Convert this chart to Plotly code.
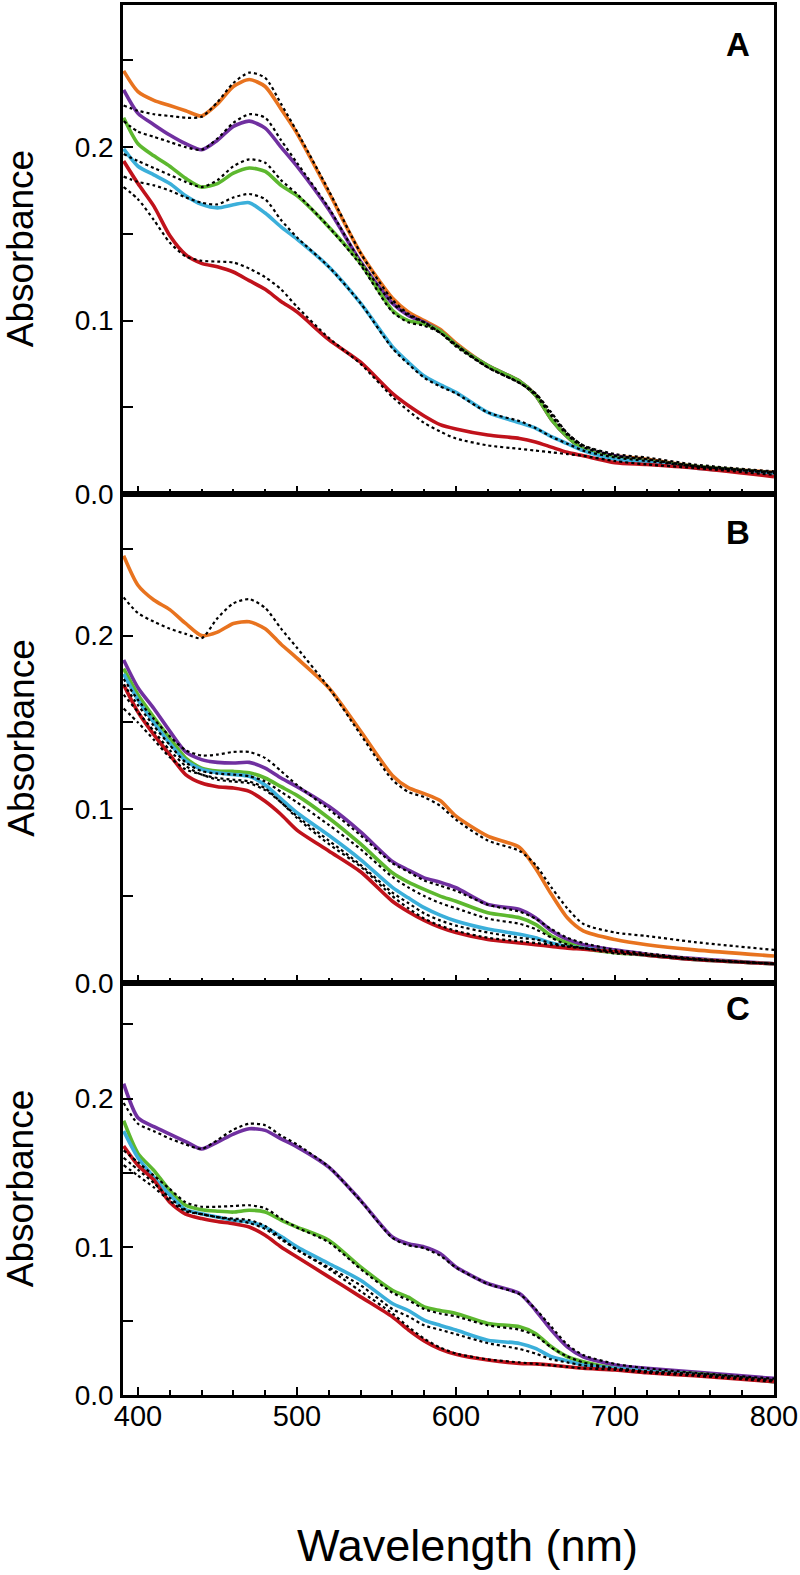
import plotly.graph_objects as go

# Wavelength grid (nm)
wl = [391, 400, 410, 420, 430, 440, 450, 460, 470, 480, 490, 500, 520, 540, 560, 570,
      580, 590, 600, 620, 640, 650, 660, 670, 680, 700, 720, 750, 800]

# ---------------- Panel A ----------------
A_orange = [.244, .232, .227, .224, .221, .218, .225, .235, .239, .235, .222, .208, .174, .139, .113, .105,
            .100, .095, .087, .074, .065, .057, .043, .033, .026, .022, .020, .016, .0125]
A_orange_fit = [.224, .221, .219, .218, .217, .2175, .226, .237, .243, .240, .225, .209, .175, .139, .112, .104,
                .099, .093, .086, .073, .064, .058, .047, .035, .028, .023, .021, .017, .013]
A_purple = [.233, .2195, .213, .207, .202, .1985, .204, .212, .215, .211, .200, .189, .164, .134, .110, .103,
            .099, .094, .086, .074, .065, .057, .043, .033, .026, .022, .019, .016, .012]
A_purple_fit = [.215, .209, .206, .203, .200, .1985, .205, .214, .219, .217, .204, .191, .165, .134, .110, .103,
                .099, .093, .086, .073, .064, .058, .046, .035, .028, .022, .020, .016, .0125]
A_green = [.217, .202, .195, .189, .182, .177, .179, .185, .188, .186, .178, .172, .154, .133, .106, .100,
           .098, .094, .086, .074, .065, .057, .043, .033, .026, .021, .019, .016, .012]
A_green_fit = [.196, .192, .188, .184, .180, .177, .181, .189, .193, .191, .181, .173, .154, .132, .105, .099,
               .097, .093, .085, .073, .064, .057, .045, .034, .027, .022, .020, .016, .0125]
A_cyan = [.199, .189, .184, .179, .172, .167, .165, .1668, .168, .162, .154, .147, .131, .110, .085, .076,
          .068, .063, .0586, .047, .041, .038, .033, .029, .025, .020, .0185, .015, .0117]
A_cyan_fit = [.183, .180, .178, .175, .171, .168, .167, .171, .173, .170, .158, .148, .131, .110, .084, .075,
              .067, .062, .058, .047, .042, .038, .033, .029, .025, .021, .019, .016, .012]
A_red = [.192, .179, .166, .149, .138, .133, .131, .128, .123, .118, .111, .105, .089, .076, .058, .051,
         .045, .040, .0375, .034, .032, .030, .027, .024, .022, .018, .017, .015, .010]
A_red_fit = [.177, .170, .158, .145, .137, .1345, .134, .1335, .130, .125, .118, .108, .090, .075, .056, .048,
             .041, .036, .032, .028, .026, .025, .024, .023, .022, .019, .017, .015, .011]

# ---------------- Panel B ----------------
B_orange = [.246, .229, .2205, .215, .207, .200, .202, .207, .208, .204, .195, .187, .170, .145, .1195, .1125,
            .109, .105, .096, .0845, .078, .066, .051, .0375, .030, .025, .022, .019, .0155]
B_orange_fit = [.222, .213, .208, .204, .201, .1985, .210, .2186, .221, .216, .204, .193, .170, .143, .117, .110,
                .107, .102, .094, .082, .076, .068, .055, .043, .034, .029, .027, .0235, .019]
B_purple = [.186, .170, .158, .145, .133, .1286, .127, .1266, .127, .1237, .118, .113, .1017, .087, .070, .065,
            .0605, .058, .0548, .0452, .0423, .0375, .030, .025, .022, .019, .0165, .014, .011]
B_purple_fit = [.175, .163, .152, .142, .134, .131, .1315, .133, .133, .1295, .122, .114, .100, .085, .069, .064,
                .059, .056, .053, .045, .041, .037, .031, .026, .023, .019, .017, .014, .011]
B_green = [.181, .166, .153, .141, .1295, .1237, .122, .1218, .121, .118, .113, .108, .095, .080, .0634, .058,
           .0538, .050, .047, .0404, .0375, .0337, .027, .023, .020, .0174, .016, .0135, .011]
B_green_fit = [.172, .160, .148, .137, .127, .122, .1205, .120, .119, .116, .110, .104, .091, .077, .061, .055,
               .050, .046, .043, .037, .034, .031, .026, .022, .020, .017, .016, .0135, .011]
B_cyan = [.178, .163, .150, .138, .128, .123, .121, .120, .119, .114, .106, .098, .085, .071, .055, .049,
          .0433, .039, .0356, .031, .028, .026, .023, .021, .020, .018, .016, .0135, .011]
B_cyan_fit = [.166, .156, .145, .134, .125, .120, .118, .117, .116, .112, .104, .096, .082, .068, .052, .046,
              .040, .036, .033, .029, .026, .025, .023, .021, .020, .018, .016, .0135, .011]
B_red = [.1717, .156, .143, .1314, .120, .1151, .113, .1122, .1103, .1046, .097, .088, .076, .064, .047, .041,
         .036, .032, .029, .025, .023, .022, .021, .020, .0194, .018, .016, .0135, .011]
B_red_fit = [.158, .150, .140, .130, .123, .120, .117, .116, .115, .111, .104, .095, .080, .067, .050, .043,
             .037, .033, .030, .026, .024, .023, .022, .021, .020, .018, .016, .0135, .011]

# ---------------- Panel C ----------------
C_purple = [.210, .187, .181, .176, .171, .166, .1706, .176, .1796, .1785, .1728, .1674, .1537, .1313, .1066, .102,
            .0999, .0954, .0864, .0752, .0685, .0572, .0438, .0325, .0258, .0202, .018, .0155, .0112]
C_purple_fit = [.197, .183, .178, .173, .169, .166, .172, .179, .183, .182, .175, .169, .154, .131, .106, .101,
                .099, .094, .086, .075, .068, .058, .046, .034, .027, .021, .018, .015, .011]
C_green = [.185, .163, .1515, .138, .128, .125, .124, .1234, .1246, .1234, .118, .1133, .1044, .0864, .0707, .066,
           .0595, .057, .055, .0483, .046, .0415, .0325, .0258, .0224, .018, .016, .0145, .009]
C_green_fit = [.165, .157, .148, .139, .130, .127, .127, .1275, .128, .126, .119, .113, .103, .085, .069, .064,
               .058, .055, .053, .047, .044, .040, .032, .026, .022, .018, .016, .0145, .010]
C_cyan = [.178, .160, .147, .135, .125, .1223, .120, .1178, .1167, .1133, .107, .0999, .0887, .0774, .0617, .057,
          .0505, .047, .0438, .037, .0348, .0314, .0258, .023, .0202, .018, .016, .014, .009]
C_cyan_fit = [.160, .152, .143, .133, .125, .122, .120, .119, .118, .114, .106, .098, .086, .074, .058, .053,
              .047, .044, .041, .035, .031, .028, .024, .022, .020, .018, .016, .014, .010]
C_red = [.168, .155, .145, .130, .122, .119, .117, .1156, .1133, .1077, .0999, .0931, .0797, .0662, .0527, .044,
         .0365, .031, .0275, .0236, .0213, .021, .0202, .019, .018, .0169, .015, .013, .009]
C_red_fit = [.155, .148, .140, .131, .124, .122, .120, .118, .116, .112, .105, .098, .085, .070, .055, .046,
             .038, .032, .028, .024, .022, .021, .020, .019, .018, .017, .015, .013, .009]

COL = {"orange": "#E8731F", "purple": "#7030A0", "green": "#5DB82F", "cyan": "#3BAFDA", "red": "#C0121B"}

panels = [
    ("A", [("orange", A_orange, A_orange_fit), ("purple", A_purple, A_purple_fit),
           ("green", A_green, A_green_fit), ("cyan", A_cyan, A_cyan_fit), ("red", A_red, A_red_fit)]),
    ("B", [("orange", B_orange, B_orange_fit), ("purple", B_purple, B_purple_fit),
           ("green", B_green, B_green_fit), ("cyan", B_cyan, B_cyan_fit), ("red", B_red, B_red_fit)]),
    ("C", [("purple", C_purple, C_purple_fit), ("green", C_green, C_green_fit),
           ("cyan", C_cyan, C_cyan_fit), ("red", C_red, C_red_fit)]),
]

W, H = 800, 1575
ml, mr, mt, mb = 123, 24, 2, 180
ph = H - mt - mb
pw = W - ml - mr

def fy(py):  # pixel y -> paper y
    return (H - mb - py) / ph

domains = [[fy(492), 1.0], [fy(982), fy(492)], [0.0, fy(982)]]
yranges = [[0, 0.282], [0, 0.2816], [0, 0.278]]

fig = go.Figure()
for i, (label, series) in enumerate(panels):
    xa = "x" if i == 0 else f"x{i+1}"
    ya = "y" if i == 0 else f"y{i+1}"
    for name, vals, fit in series:
        fig.add_trace(go.Scatter(x=wl, y=vals, xaxis=xa, yaxis=ya, mode="lines",
                                 line=dict(color=COL[name], width=3.6, shape="spline", smoothing=0.7),
                                 showlegend=False, hoverinfo="skip"))
    for name, vals, fit in series:
        fig.add_trace(go.Scatter(x=wl, y=fit, xaxis=xa, yaxis=ya, mode="lines",
                                 line=dict(color="black", width=2.2, dash="dot", shape="spline", smoothing=0.7),
                                 showlegend=False, hoverinfo="skip"))

font_family = "Liberation Sans, Arial, sans-serif"
layout = dict(
    width=W, height=H, margin=dict(l=ml, r=mr, t=mt, b=mb),
    paper_bgcolor="white", plot_bgcolor="white",
    font=dict(family=font_family, color="black"),
    showlegend=False,
)
for i in range(3):
    xk = "xaxis" if i == 0 else f"xaxis{i+1}"
    yk = "yaxis" if i == 0 else f"yaxis{i+1}"
    ya = "y" if i == 0 else f"y{i+1}"
    xa = "x" if i == 0 else f"x{i+1}"
    layout[xk] = dict(
        domain=[0, 1], anchor=ya, range=[390.6, 800],
        showline=True, linecolor="black", linewidth=2.6, mirror=True,
        showgrid=False, zeroline=False,
        ticks="inside", ticklen=8, tickwidth=2, tickcolor="black",
        tickvals=[400, 500, 600, 700, 800],
        showticklabels=(i == 2), tickfont=dict(size=29, family=font_family),
        ticklabelstandoff=-7, ticklabeloverflow="allow",
        minor=dict(ticks="inside", ticklen=5, tickwidth=2, tickcolor="black", dtick=20, tick0=400, showgrid=False),
    )
    if i < 2:
        layout[xk]["matches"] = "x3"
    layout[yk] = dict(
        domain=domains[i], anchor=xa, range=yranges[i],
        showline=True, linecolor="black", linewidth=2.6, mirror=True,
        showgrid=False, zeroline=False,
        ticks="inside", ticklen=10, tickwidth=2, tickcolor="black",
        tickvals=[0, 0.1, 0.2], ticktext=["0.0", "0.1", "0.2"],
        tickfont=dict(size=28, family=font_family), ticklabelstandoff=1,
        minor=dict(ticks="inside", ticklen=10, tickwidth=2, tickcolor="black", dtick=0.05, tick0=0, showgrid=False),
    )

fig.update_layout(**layout)

def px_x(px):
    return (px - ml) / pw

annotations = []
centers = [(1 + 492) / 2, (492 + 982) / 2, (982 + 1395) / 2]
for c in centers:
    annotations.append(dict(text="Absorbance", xref="paper", yref="paper", x=px_x(21), y=fy(c),
                            xanchor="center", yanchor="middle", textangle=-90, showarrow=False,
                            font=dict(size=37, family=font_family, color="black")))
for lab, py in zip(["A", "B", "C"], [42, 531, 1008]):
    annotations.append(dict(text=f"<b>{lab}</b>", xref="paper", yref="paper", x=px_x(740), y=fy(py),
                            xanchor="center", yanchor="middle", showarrow=False,
                            font=dict(size=33, family=font_family, color="black")))
annotations.append(dict(text="Wavelength (nm)", xref="paper", yref="paper", x=px_x(469), y=fy(1546),
                        xanchor="center", yanchor="middle", showarrow=False,
                        font=dict(size=45, family=font_family, color="black")))
fig.update_layout(annotations=annotations)

fig.write_html("out.html", config={"displayModeBar": False},
               post_script="document.body.style.margin='0';document.body.style.overflow='hidden';")
